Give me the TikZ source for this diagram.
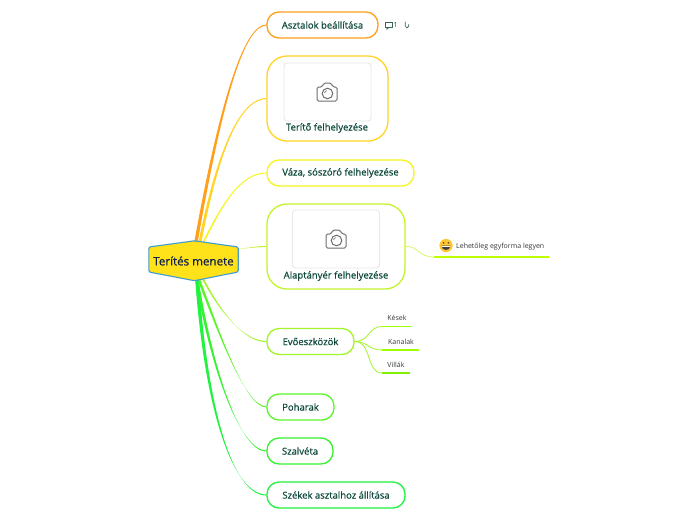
\documentclass[tikz,border=0pt]{standalone}
\usepackage{fontspec}
\setmainfont{Open Sans}[FakeBold=0.6]
\newfontfamily\plainfont{Open Sans}
\usetikzlibrary{calc}
\definecolor{corange}{HTML}{FF9F1C}
\definecolor{cgold}{HTML}{FFD426}
\definecolor{cyel}{HTML}{F7F520}
\definecolor{clime}{HTML}{C4F52B}
\definecolor{cyg}{HTML}{A2F52B}
\definecolor{cgr1}{HTML}{5CF52B}
\definecolor{cgr2}{HTML}{36F22F}
\definecolor{cgr3}{HTML}{1FF23F}
\definecolor{limerule}{HTML}{BFFF00}
\definecolor{yglrule}{HTML}{A0FF00}
\definecolor{grrule}{HTML}{80F000}
\definecolor{rootfill}{HTML}{FFE21A}
\definecolor{rootedge}{HTML}{3F9BD0}
\definecolor{ink}{HTML}{0F4A3C}
\definecolor{rootink}{HTML}{10204F}
\definecolor{sub}{HTML}{3A3A3A}
\definecolor{iconc}{HTML}{6E6E6E}
\definecolor{smile}{HTML}{FFC62E}
\tikzset{
  topic/.style={draw=#1,line width=1.3pt,rounded corners=12pt,fill=white,inner sep=0pt,font=\fontsize{9.5}{11}\selectfont,text=ink,align=center},
  bigtopic/.style={draw=#1,line width=1.3pt,rounded corners=20pt,fill=white,inner sep=0pt},
  picbox/.style={draw=black!9,line width=.9pt,rounded corners=3pt,fill=white,minimum width=87pt,minimum height=58pt,inner sep=0pt},
  toplabel/.style={inner sep=0pt,font=\fontsize{9.5}{11}\selectfont,text=ink},
  leaf/.style={inner sep=0pt,font=\plainfont\fontsize{7}{8}\selectfont,text=sub},
  rule/.style={line width=1.6pt,draw=#1},
  cam/.style={draw=iconc,line width=1pt,line join=round},
  subline/.style={draw=#1,line width=.8pt}
}
% colour, start coord, control 1, control 2, end coord, half width at start
\newcommand\taper[6]{%
  \fill[#1] ($(#2)+(-#6,0)$) .. controls ($#3+(-#6*.75,0)$) and ($#4+(0,-.65)$) .. ($(#5)+(0,-.55)$)
    -- ($(#5)+(0,.55)$) .. controls ($#4+(0,.65)$) and ($#3+(#6*.75,0)$) .. ($(#2)+(#6,0)$) -- cycle;}
\newcommand\camera[1]{%
  \begin{scope}[shift={(#1)}]
    \draw[cam,rounded corners=1.5pt] (-10,-5) -- (-5,-5) -- (-3,-9) -- (4,-9) -- (6,-5) -- (10,-5) -- (10,9) -- (-10,9) -- cycle;
    \draw[cam] (0.5,1.5) circle (5.3);
    \draw[cam,line width=.7pt] (-2.4,1) .. controls (-2.4,-.2) and (-1.4,-1.2) .. (-.3,-1.3);
  \end{scope}}
\begin{document}
\begin{tikzpicture}[x=1pt,y=-1pt]
\useasboundingbox (0,0) rectangle (696,520);
\fill[white] (0,0) rectangle (696,520);
% root anchor
\node[inner sep=0pt,minimum width=89pt,minimum height=39pt] (root) at (193.5,261) {};
\coordinate (rn) at (196,242);
\coordinate (rn2) at (200,242);
\coordinate (rn3) at (203,243);
\coordinate (re) at (238,249);
\coordinate (rs) at (197,280);
\coordinate (rs2) at (203,279);
\coordinate (rs3) at (199,280);
% topics
\node[topic=corange,minimum width=111pt,minimum height=26pt] (a) at (322.5,25) {Asztalok beállítása};
\node[bigtopic=cgold,minimum width=121pt,minimum height=85pt] (b) at (327.5,98.5) {};
\node[picbox] (bp) at (327.5,92) {};
\node[toplabel] (bt) at (327,128) {Terítő felhelyezése};
\node[topic=cyel,minimum width=147pt,minimum height=26pt] (c) at (340.5,173) {Váza, sószóró felhelyezése};
\node[bigtopic=clime,minimum width=138pt,minimum height=85pt] (d) at (336,246.5) {};
\node[picbox] (dp) at (336,239) {};
\node[toplabel] (dt) at (336,276) {Alaptányér felhelyezése};
\node[topic=cyg,minimum width=87pt,minimum height=26pt] (e) at (310.5,341.5) {Evőeszközök};
\node[topic=cgr1,minimum width=67pt,minimum height=26pt] (f) at (300.5,407) {Poharak};
\node[topic=cgr2,minimum width=66pt,minimum height=26pt] (g) at (300,451) {Szalvéta};
\node[topic=cgr3,minimum width=138pt,minimum height=26pt] (h) at (336,495) {Székek asztalhoz állítása};
\camera{327,92}
\camera{336,239}
% branches
\taper{corange}{rn}{(222,95)}{(245,25)}{a.west}{1.7}
\taper{cgold}{rn2}{(218,150)}{(240,99)}{b.west}{1.5}
\taper{cyel}{rn3}{(222,205)}{(240,173)}{c.west}{1}
\taper{clime}{re}{(248,248)}{(257,246.5)}{d.west}{.7}
\taper{cyg}{rs2}{(222,315)}{(245,341.5)}{e.west}{1}
\taper{cgr1}{rs3}{(218,330)}{(245,407)}{f.west}{1.4}
\taper{cgr2}{rs}{(212,370)}{(240,451)}{g.west}{1.6}
\taper{cgr3}{rs}{(207,420)}{(235,495)}{h.west}{1.8}
% hexagon
\draw[draw=rootedge,fill=rootfill,line width=1.1pt,rounded corners=1.5pt]
  ($(root.west)+(0,-14)$) -- ($(root.north)+(1,-.5)$) -- ($(root.east)+(0,-14)$) -- ($(root.east)+(0,11)$) -- ($(root.south)+(1,0)$) -- ($(root.west)+(0,11)$) -- cycle;
\node[inner sep=0pt,font=\fontsize{11.6}{14}\selectfont,text=rootink] (rt) at (193.5,261) {Terítés menete};
% leaf: Lehetőleg
\node[inner sep=0pt] (l0) at (434,257) {};
\node[inner sep=0pt] (l1) at (549,257) {};
\draw[rule=limerule] (l0.center) -- (l1.center);
\draw[subline=clime!70!white] (d.east) .. controls (418,245.5) and (418,257) .. (l0.center);
\fill[smile] (446,245.5) circle (6.6);
\fill[black!75] (443.6,242.8) circle (.9) (448.4,242.8) circle (.9);
\fill[black!75] (441.6,245.6) -- (450.4,245.6) .. controls (450.4,248.6) and (448.4,250) .. (446,250) .. controls (443.6,250) and (441.6,248.6) .. (441.6,245.6) -- cycle;
\fill[white] (442.4,246) rectangle (449.6,247.4);
\node[leaf,anchor=west] (lt) at (456,246.5) {Lehetőleg egyforma legyen};
% leaves of Evőeszközök
\node[inner sep=0pt] (m0) at (382,326.5) {};
\node[inner sep=0pt] (m1) at (412,326.5) {};
\node[inner sep=0pt] (n0) at (382,350) {};
\node[inner sep=0pt] (n1) at (419,350) {};
\node[inner sep=0pt] (o0) at (382,373) {};
\node[inner sep=0pt] (o1) at (410,373) {};
\draw[rule=yglrule] (m0.center) -- (m1.center);
\draw[rule=yglrule] (n0.center) -- (n1.center);
\draw[rule=grrule] (o0.center) -- (o1.center);
\draw[subline=cyg] (e.east) .. controls (370,341.5) and (368,326.5) .. (m0.center);
\draw[subline=cyg] (e.east) .. controls (368,341.5) and (368,350) .. (n0.center);
\draw[subline=cyg] (e.east) .. controls (372,341.5) and (366,373) .. (o0.center);
\node[leaf] (mt) at (397,317.5) {Kések};
\node[leaf] (nt) at (401,341.5) {Kanalak};
\node[leaf] (ot) at (396,364.5) {Villák};
% comment and attachment icons
\draw[draw=ink!85,line width=.65pt,line join=round] (385.5,22.5) rectangle (392.5,27.5);
\draw[draw=ink!85,line width=.55pt] (387,27.5) -- (386.8,29.3) -- (389,27.5);
\node[inner sep=0pt,font=\plainfont\fontsize{7}{8}\selectfont,text=ink] (cnt) at (395.5,25) {1};
\draw[draw=ink!85,line width=.65pt,line cap=round] (405.3,22) -- (405.3,26) .. controls (405.3,28.6) and (408.8,28.6) .. (408.8,26) -- (408.8,24.5);
\end{tikzpicture}
\end{document}
